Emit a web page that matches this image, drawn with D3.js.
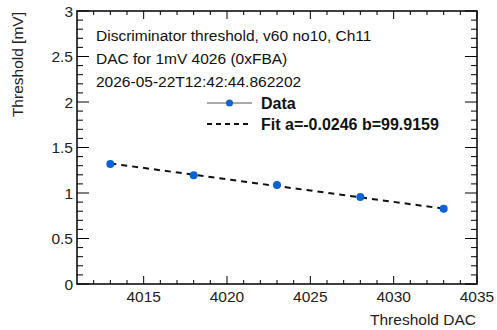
<!DOCTYPE html>
<html>
<head>
<meta charset="utf-8">
<script src="https://cdn.jsdelivr.net/npm/d3@7.9.0/dist/d3.min.js"></script>
<style>
  body { margin: 0; background: #fff; }
  svg { display: block; font-family: "Liberation Sans", Arial, sans-serif; }
</style>
</head>
<body>
<svg width="497" height="330"></svg>
<script>
// measured points
const dacValues = [4013, 4018, 4023, 4028, 4033];
const thresholdValues = [1.319, 1.195, 1.088, 0.956, 0.826];
// fit line as drawn
const fitX = [4013, 4033];
const fitY = [1.325, 0.828];
const xTicks = [4015, 4020, 4025, 4030, 4035];
const yTicks = [0, 0.5, 1, 1.5, 2, 2.5, 3];
const infoLines = [
    "Discriminator threshold, v60 no10, Ch11",
    "DAC for 1mV 4026 (0xFBA)",
    "2026-05-22T12:42:44.862202"
];
const legendLabels = ["Data", "Fit a=-0.0246 b=99.9159"];

const blue = "#0a63d6";
let svg = d3.select("svg");
let fLeft = 77, fRight = 477, fTop = 11, fBottom = 284;

let x = d3.scaleLinear().domain([4011, 4035]).range([fLeft, fRight]);
let y = d3.scaleLinear().domain([0, 3]).range([fBottom, fTop]);

// ticks drawn inside the frame, ROOT style
function tickLines(g, values, len, horizontal) {
    values.forEach(v => {
        if (horizontal) {
            g.append("line").attr("x1", x(v)).attr("x2", x(v)).attr("y1", fBottom).attr("y2", fBottom - len);
            g.append("line").attr("x1", x(v)).attr("x2", x(v)).attr("y1", fTop).attr("y2", fTop + len);
        } else {
            g.append("line").attr("y1", y(v)).attr("y2", y(v)).attr("x1", fLeft).attr("x2", fLeft + len);
            g.append("line").attr("y1", y(v)).attr("y2", y(v)).attr("x1", fRight).attr("x2", fRight - len);
        }
    });
}
let ticks = svg.append("g").attr("stroke", "#000").attr("stroke-width", 1);
tickLines(ticks, d3.range(4012, 4035, 1).filter(v => v % 5 !== 0), 4, true);
tickLines(ticks, xTicks, 8, true);
tickLines(ticks, d3.range(1, 30).filter(i => i % 5 !== 0).map(i => i / 10), 6, false);
tickLines(ticks, yTicks, 12, false);

svg.append("rect")
    .attr("x", fLeft).attr("y", fTop)
    .attr("width", fRight - fLeft).attr("height", fBottom - fTop)
    .attr("fill", "none").attr("stroke", "#000").attr("stroke-width", 1.5);

// tick labels
svg.append("g").selectAll("text").data(xTicks).join("text")
    .attr("x", d => x(d)).attr("y", 302)
    .attr("text-anchor", "middle").attr("font-size", 15.5).attr("fill", "#222")
    .text(d => d);
svg.append("g").selectAll("text").data(yTicks).join("text")
    .attr("x", 73).attr("y", d => y(d) + 5.5)
    .attr("text-anchor", "end").attr("font-size", 15.5).attr("fill", "#222")
    .text(d => d);

// axis titles
svg.append("text").attr("x", 476).attr("y", 325)
    .attr("text-anchor", "end").attr("font-size", 15.5).attr("fill", "#222")
    .text("Threshold DAC");
svg.append("text").attr("transform", "translate(23,12) rotate(-90)")
    .attr("text-anchor", "end").attr("font-size", 15.5).attr("fill", "#222")
    .text("Threshold [mV]");

// fit line
svg.append("line")
    .attr("x1", x(fitX[0])).attr("y1", y(fitY[0]))
    .attr("x2", x(fitX[1])).attr("y2", y(fitY[1]))
    .attr("stroke", "#111").attr("stroke-width", 2).attr("stroke-dasharray", "6,5");

// data points
svg.append("g").selectAll("circle").data(dacValues).join("circle")
    .attr("cx", d => x(d)).attr("cy", (d, i) => y(thresholdValues[i]))
    .attr("r", 4).attr("fill", blue);

// info text
svg.append("g").selectAll("text").data(infoLines).join("text")
    .attr("x", 96).attr("y", (d, i) => 41 + i * 23)
    .attr("font-size", 15.5).attr("fill", "#111")
    .text(d => d);

// legend
let legend = svg.append("g");
legend.append("line").attr("x1", 207).attr("x2", 252).attr("y1", 103).attr("y2", 103)
    .attr("stroke", "#555").attr("stroke-width", 1);
legend.append("circle").attr("cx", 229.5).attr("cy", 103).attr("r", 3.5).attr("fill", blue);
legend.append("line").attr("x1", 207).attr("x2", 250).attr("y1", 124).attr("y2", 124)
    .attr("stroke", "#111").attr("stroke-width", 2).attr("stroke-dasharray", "5,4");
legend.selectAll("text").data(legendLabels).join("text")
    .attr("x", 261).attr("y", (d, i) => 108.5 + i * 21)
    .attr("font-size", 16).attr("font-weight", "bold").attr("fill", "#111")
    .text(d => d);
</script>
</body>
</html>
